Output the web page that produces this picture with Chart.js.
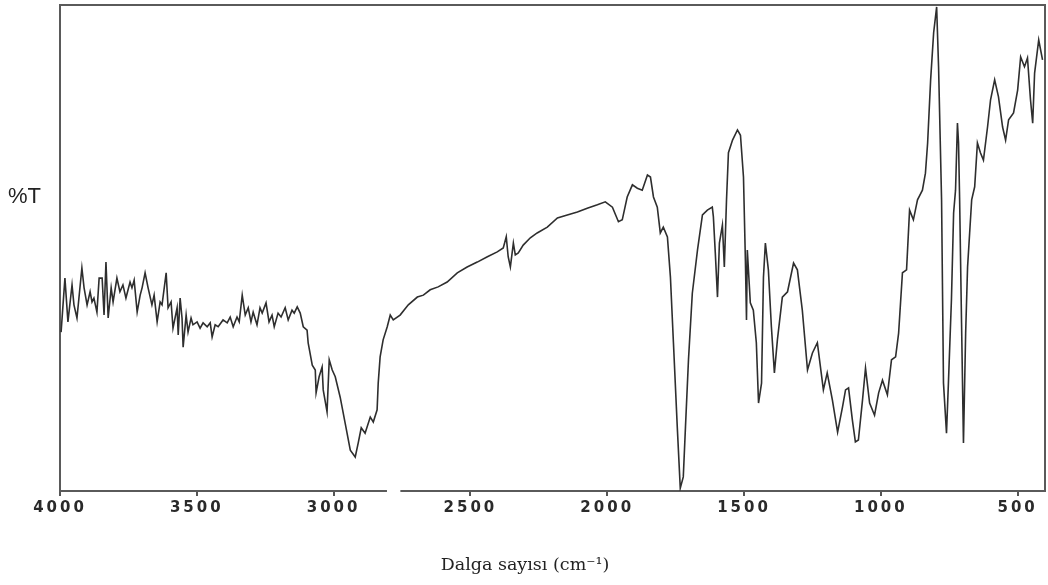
<!DOCTYPE html>
<html>
<head>
<meta charset="utf-8">
<script src="https://cdn.jsdelivr.net/npm/chart.js@4.4.1/dist/chart.umd.min.js"></script>
<style>
  html, body { margin: 0; padding: 0; background: #fff; }
  #spectrum { display: block; }
</style>
</head>
<body>
<canvas id="spectrum" width="1048" height="585"></canvas>
<script>
// IR spectrum (cm-1 vs %T)
const wavenumbers = [
  3996, 3982, 3971, 3956, 3949, 3938, 3920, 3912, 3901, 3890, 3883, 3876, 3865, 3857, 3846, 3839, 3832, 3824, 3813, 3806,
  3792, 3781, 3770, 3759, 3744, 3737, 3729, 3718, 3707, 3700, 3689, 3678, 3664, 3656, 3645, 3634, 3627, 3612, 3605, 3594,
  3587, 3572, 3568, 3561, 3554, 3550, 3539, 3532, 3521, 3514, 3499, 3488, 3477, 3462, 3451, 3444, 3433, 3422, 3404, 3389,
  3378, 3367, 3353, 3345, 3334, 3323, 3312, 3302, 3294, 3280, 3269, 3261, 3247, 3236, 3225, 3217, 3203, 3192, 3177, 3166,
  3152, 3144, 3133, 3122,
  3111, 3097, 3093, 3078, 3067, 3064, 3053, 3042, 3038, 3024, 3016, 3005, 2994, 2976, 2958, 2939, 2921, 2910, 2899, 2885,
  2866, 2855, 2841, 2837, 2830, 2819, 2804, 2793, 2782, 2757, 2727, 2694, 2672, 2647, 2618, 2585, 2548, 2512, 2475, 2438,
  2402, 2380, 2369, 2362, 2354, 2343, 2336, 2325, 2307, 2281, 2256, 2219, 2182, 2146, 2109, 2073, 2036, 2007, 1981, 1959,
  1945, 1927, 1908, 1890, 1872, 1853, 1842, 1831, 1817, 1806, 1795, 1780, 1769, 1758, 1744, 1733, 1722, 1714, 1703, 1689,
  1670, 1652, 1634, 1616, 1612, 1605, 1597, 1590, 1579, 1572, 1564, 1557, 1542, 1524, 1513, 1502, 1495, 1491, 1488, 1477,
  1466, 1455, 1447, 1436, 1429, 1422, 1411, 1400, 1389, 1378, 1360, 1341, 1319, 1305, 1287, 1268, 1250, 1232, 1210, 1196,
  1177, 1158, 1140, 1129, 1118, 1104, 1093, 1082, 1067, 1056, 1041, 1023, 1008, 994, 976, 961, 946, 935, 921, 906,
  895, 881, 866, 848, 837, 829, 818, 807, 796, 789, 778, 771, 760, 753, 742, 734, 727, 720, 716, 712,
  705, 698, 690, 683, 668, 657, 647, 636, 625, 610, 599, 584, 570, 555, 544, 533, 515, 500, 489, 475,
  464, 453, 445, 438, 423, 409
];
const transmittance = [
  32.7, 43.8, 34.8, 42.4, 38.3, 35.6, 45.9, 41.8, 38.3, 41.0, 38.9, 39.7, 36.8, 43.8, 43.8, 36.2, 47.1, 35.6, 41.8, 38.9,
  43.8, 41.0, 42.4, 39.7, 43.0, 41.8, 43.4, 36.8, 40.3, 41.8, 44.9, 41.8, 38.3, 40.3, 34.8, 38.9, 38.3, 44.9, 37.7, 38.9,
  33.5, 37.7, 32.1, 39.7, 35.6, 29.6, 36.2, 32.7, 35.6, 34.2, 34.8, 33.5, 34.6, 33.8, 34.6, 31.7, 34.2, 33.8, 35.2, 34.6,
  35.8, 33.8, 35.8, 34.8, 40.3, 36.2, 37.7, 34.8, 36.8, 34.2, 37.7, 36.6, 38.7, 34.8, 36.2, 33.8, 36.6, 35.8, 37.7, 35.2,
  37.2, 36.6, 37.9, 36.6,
  33.8, 33.1, 30.5, 25.9, 24.9, 20.2, 23.5, 25.5, 20.8, 16.3, 27.0, 24.9, 23.5, 19.3, 14.0, 8.4, 7.0, 9.9, 13.0, 11.9,
  15.2, 14.2, 16.7, 22.2, 27.6, 31.1, 33.8, 36.2, 35.2, 36.2, 38.3, 39.9, 40.3, 41.4, 42.0, 43.0, 44.9, 46.1, 47.1, 48.2,
  49.2, 50.0, 52.3, 48.2, 46.1, 51.0, 48.6, 49.0, 50.6, 52.1, 53.1, 54.3, 56.2, 56.8, 57.4, 58.2, 58.9, 59.5, 58.4, 55.4,
  55.8, 60.5, 63.0, 62.3, 61.9, 65.0, 64.6, 60.5, 58.4, 53.1, 54.3, 52.3, 44.0, 30.5, 13.2, 0.6, 2.9, 13.2, 27.0, 40.7,
  49.6, 56.8, 57.8, 58.4, 56.4, 49.0, 39.9, 51.0, 54.7, 46.1, 59.9, 69.6, 72.2, 74.3, 73.2, 64.6, 47.5, 35.2, 49.6, 38.7,
  37.2, 30.5, 18.1, 22.2, 44.0, 51.0, 45.5, 33.8, 24.3, 31.1, 39.9, 41.0, 46.9, 45.5, 37.2, 24.9, 28.4, 30.5, 20.8, 24.3,
  18.7, 12.1, 17.3, 20.8, 21.2, 14.6, 10.1, 10.5, 18.7, 25.3, 18.1, 15.6, 20.2, 22.8, 19.8, 27.0, 27.6, 32.5, 44.9, 45.5,
  57.8, 55.8, 59.9, 61.9, 65.4, 71.6, 84.6, 94.3, 99.6, 87.3, 59.9, 22.2, 11.9, 22.2, 39.3, 57.2, 61.9, 75.7, 71.6, 59.9,
  34.6, 9.9, 32.5, 46.1, 59.9, 62.6, 71.6, 69.6, 68.1, 74.9, 80.5, 84.6, 81.1, 74.9, 72.2, 76.4, 77.8, 82.5, 89.3, 87.3,
  89.1, 80.5, 75.7, 86.0, 92.8, 88.7
];
const xTicks = [4000, 3500, 3000, 2500, 2000, 1500, 1000, 500];
const axisBreak = [2805, 2756];
const xTitle = 'Dalga sayısı (cm⁻¹)';
const yTitle = '%T';

// box round the plot, with the break in the bottom axis, plus the two titles
const framePlugin = {
  id: 'frame',
  beforeDraw(chart) {
    chart.ctx.letterSpacing = '3px'; // wide tick digits
  },
  beforeDatasetsDraw(chart) {
    const { ctx, chartArea: a, scales: { x } } = chart;
    ctx.save();
    ctx.strokeStyle = '#5a5a5a';
    ctx.lineWidth = 2;
    ctx.beginPath();
    ctx.moveTo(x.getPixelForValue(axisBreak[0]), a.bottom);
    ctx.lineTo(a.left, a.bottom);
    ctx.lineTo(a.left, a.top);
    ctx.lineTo(a.right, a.top);
    ctx.lineTo(a.right, a.bottom);
    ctx.lineTo(x.getPixelForValue(axisBreak[1]), a.bottom);
    ctx.stroke();
    ctx.restore();
  },
  afterDraw(chart) {
    const ctx = chart.ctx;
    ctx.letterSpacing = '0px';
    ctx.save();
    ctx.fillStyle = '#222';
    ctx.textBaseline = 'middle';
    ctx.font = '22px "Liberation Sans"';
    ctx.fillText(yTitle, 8, 197);
    ctx.font = '17.5px "DejaVu Serif"';
    ctx.textAlign = 'center';
    ctx.fillText(xTitle, 525, 565);
    ctx.restore();
  }
};

new Chart(document.getElementById('spectrum'), {
  type: 'line',
  data: {
    datasets: [{
      data: wavenumbers.map((w, i) => ({ x: w, y: transmittance[i] })),
      borderColor: '#2e2e2e',
      borderWidth: 1.6,
      pointRadius: 0,
      tension: 0,
      fill: false
    }]
  },
  options: {
    responsive: false,
    animation: false,
    layout: { padding: { left: 60, right: 3, top: 5, bottom: 0 } },
    plugins: {
      legend: { display: false },
      tooltip: { enabled: false }
    },
    scales: {
      x: {
        type: 'linear',
        reverse: true,
        min: 400,
        max: 4000,
        afterBuildTicks: (scale) => { scale.ticks = xTicks.map(v => ({ value: v })); },
        afterFit: (scale) => { scale.height = 94; scale.paddingLeft = 0; scale.paddingRight = 0; },
        border: { display: false },
        grid: { drawOnChartArea: false, drawTicks: true, tickLength: 5, color: '#555', lineWidth: 2 },
        ticks: {
          color: '#2a2a2a',
          font: { family: 'DejaVu Sans', size: 15, weight: 'bold' },
          padding: 3,
          maxRotation: 0,
          autoSkip: false,
          callback: (v) => String(v)
        }
      },
      y: { display: false, min: 0, max: 100 }
    }
  },
  plugins: [framePlugin]
});
</script>
</body>
</html>
